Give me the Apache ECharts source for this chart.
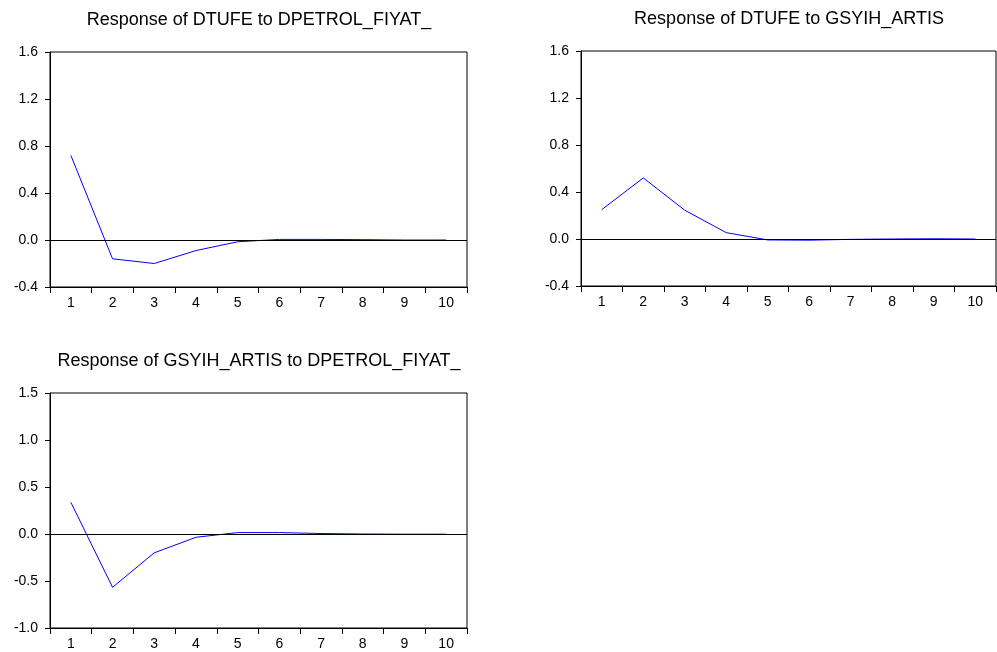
<!DOCTYPE html>
<html>
<head>
<meta charset="utf-8">
<script src="https://cdn.jsdelivr.net/npm/echarts@6/dist/echarts.min.js"></script>
<style>
  html, body { margin: 0; padding: 0; background: #fff; }
  #main { width: 997px; height: 652px; }
</style>
</head>
<body>
<div id="main"></div>
<script>
// periods on the x axis
const periods = ['1', '2', '3', '4', '5', '6', '7', '8', '9', '10'];

// impulse responses
const dtufeToPetrol = [0.72, -0.16, -0.20, -0.09, -0.015, 0.005, 0.005, 0.003, 0.0, 0.0];
const dtufeToGsyih = [0.25, 0.52, 0.245, 0.054, -0.008, -0.01, -0.003, 0.0, 0.002, 0.0];
const gsyihToPetrol = [0.337, -0.567, -0.20, -0.035, 0.015, 0.015, 0.005, 0.0, -0.002, -0.002];

const titles = [
    'Response of DTUFE to DPETROL_FIYAT_',
    'Response of DTUFE to GSYIH_ARTIS',
    'Response of GSYIH_ARTIS to DPETROL_FIYAT_'
];

// y scales per panel: [min, max, interval]
const yScales = [
    [-0.4, 1.6, 0.4],
    [-0.4, 1.6, 0.4],
    [-1.0, 1.5, 0.5]
];

const panels = [
    { left: 50, top: 52, width: 417, height: 235, data: dtufeToPetrol },
    { left: 581, top: 51, width: 415, height: 235, data: dtufeToGsyih },
    { left: 50, top: 393, width: 417, height: 235, data: gsyihToPetrol }
];

const FONT = '"Liberation Sans", Arial, sans-serif';

const option = {
    animation: false,
    backgroundColor: '#fff',
    grid: panels.map(p => ({
        left: p.left, top: p.top, width: p.width, height: p.height,
        show: true, borderColor: '#000', borderWidth: 1, backgroundColor: '#fff'
    })),
    xAxis: panels.map((p, i) => ({
        type: 'category',
        gridIndex: i,
        data: periods,
        boundaryGap: true,
        axisLine: { show: true, onZero: false, lineStyle: { color: '#000', width: 1 } },
        axisTick: { show: true, length: 6, lineStyle: { color: '#000' } },
        axisLabel: { color: '#000', fontFamily: FONT, fontSize: 14, margin: 9 },
        splitLine: { show: false }
    })),
    yAxis: panels.map((p, i) => ({
        type: 'value',
        gridIndex: i,
        min: yScales[i][0],
        max: yScales[i][1],
        interval: yScales[i][2],
        axisLine: { show: true, lineStyle: { color: '#000', width: 1 } },
        axisTick: { show: true, length: 5, lineStyle: { color: '#000' } },
        axisLabel: {
            color: '#000', fontFamily: FONT, fontSize: 14, margin: 12,
            formatter: v => v.toFixed(1)
        },
        splitLine: { show: false }
    })),
    series: panels.map((p, i) => ({
        type: 'line',
        xAxisIndex: i,
        yAxisIndex: i,
        data: p.data,
        showSymbol: false,
        symbol: 'none',
        lineStyle: { color: '#0000ff', width: 1 },
        markLine: {
            silent: true,
            symbol: 'none',
            label: { show: false },
            lineStyle: { color: '#000', width: 1, type: 'solid' },
            data: [{ yAxis: 0 }]
        }
    })),
    graphic: [
        { type: 'text', x: 259, y: 20, style: { text: titles[0], textAlign: 'center', textVerticalAlign: 'middle', font: '18px ' + FONT, fill: '#000' } },
        { type: 'text', x: 789, y: 19, style: { text: titles[1], textAlign: 'center', textVerticalAlign: 'middle', font: '18px ' + FONT, fill: '#000' } },
        { type: 'text', x: 259, y: 361, style: { text: titles[2], textAlign: 'center', textVerticalAlign: 'middle', font: '18px ' + FONT, fill: '#000' } }
    ]
};

const chart = echarts.init(document.getElementById('main'), null, { renderer: 'canvas' });
chart.setOption(option);
</script>
</body>
</html>
